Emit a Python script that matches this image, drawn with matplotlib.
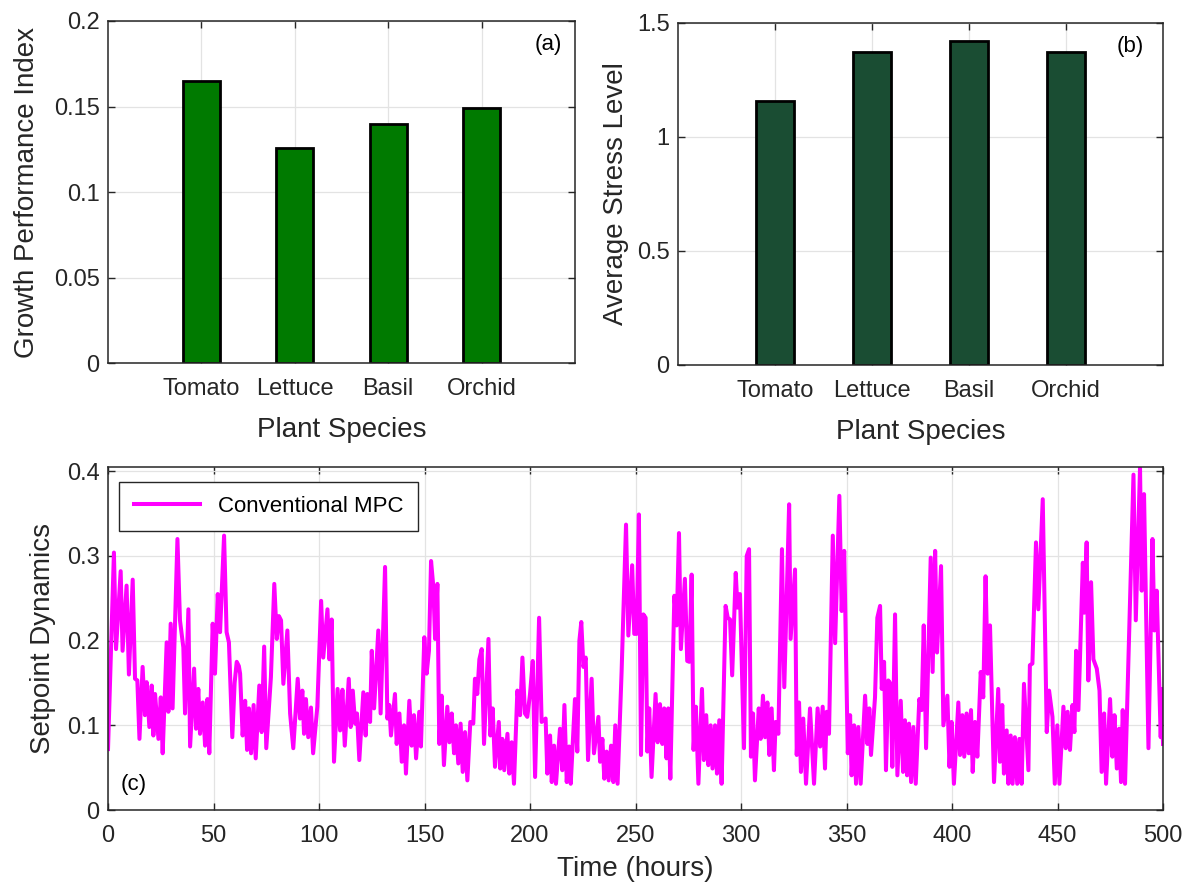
import matplotlib
matplotlib.use('Agg')
import matplotlib.pyplot as plt

plt.rcParams['font.family'] = ['Liberation Sans', 'DejaVu Sans']

species = ['Tomato', 'Lettuce', 'Basil', 'Orchid']
growth_index = [0.165, 0.126, 0.140, 0.149]
stress_level = [1.158, 1.374, 1.420, 1.371]

# setpoint trace vertices (hours, value)
t_hours = [
    0.0, 2.8, 3.8, 6.0, 6.9, 8.8, 9.9, 11.7, 12.8, 13.9, 14.9, 16.4, 17.5, 18.3, 19.6, 20.7,
    21.5, 22.3, 23.9, 25.0, 25.9, 27.8, 28.6, 29.7, 30.6, 32.9, 34.1, 35.7, 36.5, 38.1, 38.9,
    40.8, 41.7, 42.8, 43.6, 44.9, 46.0, 47.1, 48.0, 49.6, 50.7, 52.0, 53.1, 55.0, 56.2, 57.3,
    58.9, 60.0, 61.0, 62.0, 62.6, 63.8, 65.0, 65.9, 66.8, 67.8, 69.0, 70.0, 71.7, 72.8, 74.0,
    75.0, 77.2, 78.8, 80.0, 81.0, 82.0, 83.1, 85.0, 86.3, 87.8, 89.9, 91.0, 92.1, 92.9, 93.8,
    94.9, 96.2, 97.2, 99.2, 101.0, 102.0, 104.0, 104.9, 106.0, 107.1, 108.8, 110.0, 111.1,
    112.2, 114.1, 115.0, 116.0, 117.1, 118.0, 119.1, 121.0, 122.1, 122.9, 124.2, 125.0, 126.1,
    128.1, 129.2, 131.3, 132.4, 133.3, 134.1, 136.0, 136.8, 138.1, 139.2, 140.3, 141.2, 142.8,
    143.9, 145.0, 146.0, 147.5, 148.3, 149.9, 151.0, 152.1, 153.1, 154.2, 155.0, 156.1, 157.0,
    158.1, 159.2, 160.8, 161.8, 162.9, 164.0, 164.9, 166.0, 167.1, 168.1, 169.2, 170.3, 171.7,
    173.1, 173.9, 175.0, 176.0, 177.1, 178.2, 180.3, 181.2, 182.3, 183.4, 185.2, 185.9, 186.9,
    187.8, 189.3, 190.2, 191.3, 192.4, 194.0, 195.3, 196.4, 197.6, 198.7, 200.0, 201.3, 202.4,
    204.3, 205.5, 207.4, 208.2, 209.5, 210.3, 211.4, 212.3, 214.2, 215.3, 216.3, 217.4, 218.5,
    219.3, 221.3, 222.4, 223.4, 224.3, 225.3, 226.4, 227.5, 229.2, 230.3, 232.4, 233.2, 234.3,
    235.2, 236.3, 237.3, 238.4, 239.5, 240.4, 241.5, 243.4, 245.5, 246.6, 248.4, 249.4, 250.5,
    251.6, 252.6, 253.7, 254.8, 255.6, 256.5, 257.6, 259.5, 260.5, 261.6, 262.7, 263.6, 264.7,
    265.5, 266.5, 268.4, 269.5, 270.6, 271.5, 273.4, 274.5, 275.5, 276.6, 277.5, 278.6, 279.8,
    281.5, 282.4, 283.5, 284.5, 285.6, 286.5, 287.7, 288.6, 289.7, 290.8, 292.7, 293.7, 294.8,
    295.8, 297.5, 298.3, 299.5, 301.4, 302.7, 303.8, 304.7, 305.7, 306.6, 308.4, 309.3, 310.4,
    311.4, 312.5, 313.4, 314.5, 315.6, 316.4, 317.7, 319.4, 320.5, 321.7, 322.8, 323.5, 325.6,
    326.4, 327.5, 328.4, 329.5, 330.8, 332.7, 334.6, 336.3, 337.5, 338.7, 339.8, 340.6, 341.7,
    343.5, 344.6, 346.6, 347.7, 348.9, 350.6, 351.7, 352.4, 353.6, 354.5, 355.6, 356.7, 358.8,
    359.9, 360.8, 361.6, 363.5, 364.6, 365.9, 366.7, 367.8, 368.7, 369.8, 370.9, 371.7, 373.0,
    374.1, 375.7, 376.8, 377.7, 378.7, 379.6, 380.6, 381.7, 382.8, 384.5, 385.6, 386.6, 387.7,
    389.9, 390.8, 392.0, 392.9, 394.8, 395.9, 397.8, 398.8, 399.8, 400.9, 403.0, 403.8, 404.9,
    405.8, 406.9, 407.9, 409.0, 409.8, 410.9, 412.0, 413.6, 414.8, 415.9, 416.9, 418.0, 419.9,
    421.9, 422.7, 423.8, 424.6, 425.9, 426.7, 427.8, 428.7, 429.8, 430.9, 431.9, 433.0, 434.1,
    436.2, 436.9, 438.1, 439.8, 440.9, 443.0, 444.9, 446.0, 447.6, 448.7, 449.9, 450.9, 452.8,
    453.9, 454.8, 455.9, 457.1, 458.0, 458.8, 459.9, 462.0, 462.7, 463.8, 464.6, 465.9, 467.0,
    468.6, 469.9, 470.9, 472.1, 473.0, 474.9, 476.0, 477.0, 478.1, 479.2, 480.1, 480.9, 482.0,
    486.0, 487.1, 489.1, 489.9, 491.0, 493.1, 495.0, 495.9, 497.0, 498.9, 499.5, 500.0,
]
setpoint = [
    0.072, 0.304, 0.190, 0.282, 0.188, 0.265, 0.160, 0.272, 0.155, 0.153, 0.084, 0.169, 0.112, 0.151, 0.098, 0.147,
    0.088, 0.137, 0.084, 0.133, 0.067, 0.198, 0.116, 0.220, 0.120, 0.320, 0.224, 0.192, 0.114, 0.237, 0.075,
    0.167, 0.096, 0.143, 0.090, 0.127, 0.076, 0.131, 0.067, 0.220, 0.161, 0.255, 0.210, 0.324, 0.210, 0.198,
    0.086, 0.150, 0.175, 0.170, 0.161, 0.088, 0.129, 0.071, 0.120, 0.067, 0.124, 0.061, 0.147, 0.092, 0.193,
    0.073, 0.157, 0.267, 0.202, 0.229, 0.224, 0.149, 0.212, 0.114, 0.073, 0.155, 0.108, 0.141, 0.090, 0.131,
    0.086, 0.121, 0.067, 0.122, 0.247, 0.180, 0.237, 0.178, 0.225, 0.057, 0.143, 0.094, 0.142,
    0.076, 0.155, 0.098, 0.141, 0.102, 0.114, 0.059, 0.139, 0.088, 0.137, 0.104, 0.188, 0.120,
    0.212, 0.114, 0.287, 0.108, 0.124, 0.088, 0.137, 0.078, 0.114, 0.057, 0.100, 0.043, 0.129,
    0.076, 0.112, 0.061, 0.116, 0.075, 0.204, 0.161, 0.188, 0.294, 0.263, 0.202, 0.267, 0.078,
    0.135, 0.053, 0.122, 0.080, 0.114, 0.067, 0.100, 0.055, 0.102, 0.045, 0.092, 0.035, 0.104,
    0.102, 0.155, 0.137, 0.178, 0.190, 0.078, 0.202, 0.088, 0.120, 0.051, 0.104, 0.049, 0.084,
    0.047, 0.090, 0.043, 0.080, 0.031, 0.141, 0.112, 0.180, 0.114, 0.110, 0.137, 0.176, 0.039,
    0.227, 0.104, 0.108, 0.043, 0.088, 0.033, 0.076, 0.031, 0.096, 0.047, 0.124, 0.033, 0.075,
    0.031, 0.131, 0.069, 0.200, 0.222, 0.169, 0.180, 0.059, 0.155, 0.067, 0.110, 0.057, 0.084,
    0.037, 0.069, 0.035, 0.076, 0.033, 0.100, 0.031, 0.163, 0.337, 0.206, 0.289, 0.208, 0.208,
    0.349, 0.065, 0.231, 0.227, 0.069, 0.120, 0.039, 0.137, 0.080, 0.125, 0.078, 0.120, 0.061,
    0.120, 0.037, 0.253, 0.218, 0.327, 0.190, 0.273, 0.176, 0.175, 0.278, 0.071, 0.122, 0.031,
    0.143, 0.059, 0.112, 0.053, 0.100, 0.049, 0.100, 0.043, 0.106, 0.031, 0.241, 0.227, 0.225,
    0.159, 0.280, 0.239, 0.255, 0.073, 0.300, 0.308, 0.063, 0.114, 0.035, 0.120, 0.084, 0.135,
    0.086, 0.127, 0.065, 0.120, 0.047, 0.104, 0.090, 0.308, 0.145, 0.255, 0.361, 0.202, 0.284,
    0.065, 0.127, 0.045, 0.108, 0.031, 0.120, 0.031, 0.120, 0.075, 0.122, 0.049, 0.116, 0.090,
    0.324, 0.197, 0.371, 0.235, 0.306, 0.067, 0.112, 0.041, 0.100, 0.031, 0.098, 0.031, 0.135,
    0.078, 0.120, 0.065, 0.133, 0.227, 0.241, 0.143, 0.175, 0.047, 0.153, 0.149, 0.051, 0.231,
    0.041, 0.129, 0.045, 0.106, 0.041, 0.102, 0.033, 0.098, 0.031, 0.131, 0.118, 0.218, 0.073,
    0.298, 0.163, 0.306, 0.186, 0.288, 0.100, 0.135, 0.051, 0.104, 0.031, 0.127, 0.065, 0.112,
    0.063, 0.114, 0.067, 0.118, 0.045, 0.104, 0.063, 0.163, 0.133, 0.276, 0.161, 0.218, 0.033,
    0.143, 0.057, 0.124, 0.043, 0.094, 0.031, 0.088, 0.031, 0.086, 0.031, 0.084, 0.031, 0.149,
    0.047, 0.171, 0.173, 0.316, 0.237, 0.367, 0.092, 0.141, 0.110, 0.031, 0.100, 0.031, 0.122,
    0.073, 0.116, 0.071, 0.124, 0.092, 0.188, 0.118, 0.292, 0.233, 0.316, 0.153, 0.269, 0.178,
    0.167, 0.141, 0.045, 0.114, 0.031, 0.131, 0.063, 0.112, 0.049, 0.096, 0.033, 0.118, 0.031,
    0.396, 0.224, 0.404, 0.259, 0.373, 0.073, 0.320, 0.212, 0.259, 0.086, 0.143, 0.078,
]

ink = '#262626'
tick_fs = 17
label_fs = 20


def style_axes(ax):
    ax.grid(True, color='#e3e3e3', linewidth=0.9)
    ax.set_axisbelow(True)
    ax.tick_params(direction='in', top=True, right=True, length=5,
                   width=1.0, colors=ink, labelsize=tick_fs)
    ax.tick_params(axis='x', pad=11)
    ax.tick_params(axis='y', pad=6)
    for s in ax.spines.values():
        s.set_color(ink)
        s.set_linewidth(1.1)


fig = plt.figure(figsize=(11.87, 8.82), dpi=100)

# (a) growth index
ax1 = fig.add_axes([0.091, 0.5884, 0.3934, 0.3878])
xs = range(1, len(species) + 1)
ax1.bar(xs, growth_index, width=0.4, color='#007a00', edgecolor='black', linewidth=2.0)
ax1.set_xlim(0, 5)
ax1.set_ylim(0, 0.2)
ax1.set_xticks(list(xs))
ax1.set_xticklabels(species)
ax1.set_yticks([0, 0.05, 0.1, 0.15, 0.2])
ax1.set_yticklabels(['0', '0.05', '0.1', '0.15', '0.2'])
ax1.set_xlabel('Plant Species', fontsize=label_fs, color=ink, labelpad=12)
ax1.set_ylabel('Growth Performance Index', fontsize=label_fs, color=ink, labelpad=10)
ax1.text(0.942, 0.93, '(a)', transform=ax1.transAxes, ha='center', va='center',
         fontsize=16, color='black')
style_axes(ax1)

# (b) stress level
ax2 = fig.add_axes([0.5712, 0.5862, 0.4086, 0.3878])
ax2.bar(xs, stress_level, width=0.4, color='#1a4d33', edgecolor='black', linewidth=2.0)
ax2.set_xlim(0, 5)
ax2.set_ylim(0, 1.5)
ax2.set_xticks(list(xs))
ax2.set_xticklabels(species)
ax2.set_yticks([0, 0.5, 1, 1.5])
ax2.set_yticklabels(['0', '0.5', '1', '1.5'])
ax2.set_xlabel('Plant Species', fontsize=label_fs, color=ink, labelpad=12)
ax2.set_ylabel('Average Stress Level', fontsize=label_fs, color=ink, labelpad=6)
ax2.text(0.932, 0.93, '(b)', transform=ax2.transAxes, ha='center', va='center',
         fontsize=16, color='black')
style_axes(ax2)

# (c) setpoint trace
ax3 = fig.add_axes([0.091, 0.0816, 0.8888, 0.3889])
ax3.plot(t_hours, setpoint, color='#ff00ff', linewidth=2.9, label='Conventional MPC')
ax3.set_xlim(0, 500)
ax3.set_ylim(0, 0.405)
ax3.set_xticks(range(0, 501, 50))
ax3.set_yticks([0, 0.1, 0.2, 0.3, 0.4])
ax3.set_yticklabels(['0', '0.1', '0.2', '0.3', '0.4'])
ax3.set_xlabel('Time (hours)', fontsize=label_fs, color=ink, labelpad=6)
ax3.set_ylabel('Setpoint Dynamics', fontsize=label_fs, color=ink, labelpad=8)
ax3.text(0.024, 0.073, '(c)', transform=ax3.transAxes, ha='center', va='center',
         fontsize=16, color='black')
leg = ax3.legend(loc='upper left', fontsize=16, fancybox=False, framealpha=1,
                 handlelength=3.0, borderpad=0.65, bbox_to_anchor=(0.0, 0.99))
leg.get_frame().set_edgecolor(ink)
leg.get_frame().set_linewidth(1.0)
style_axes(ax3)

fig.savefig('out.png', dpi=100)
